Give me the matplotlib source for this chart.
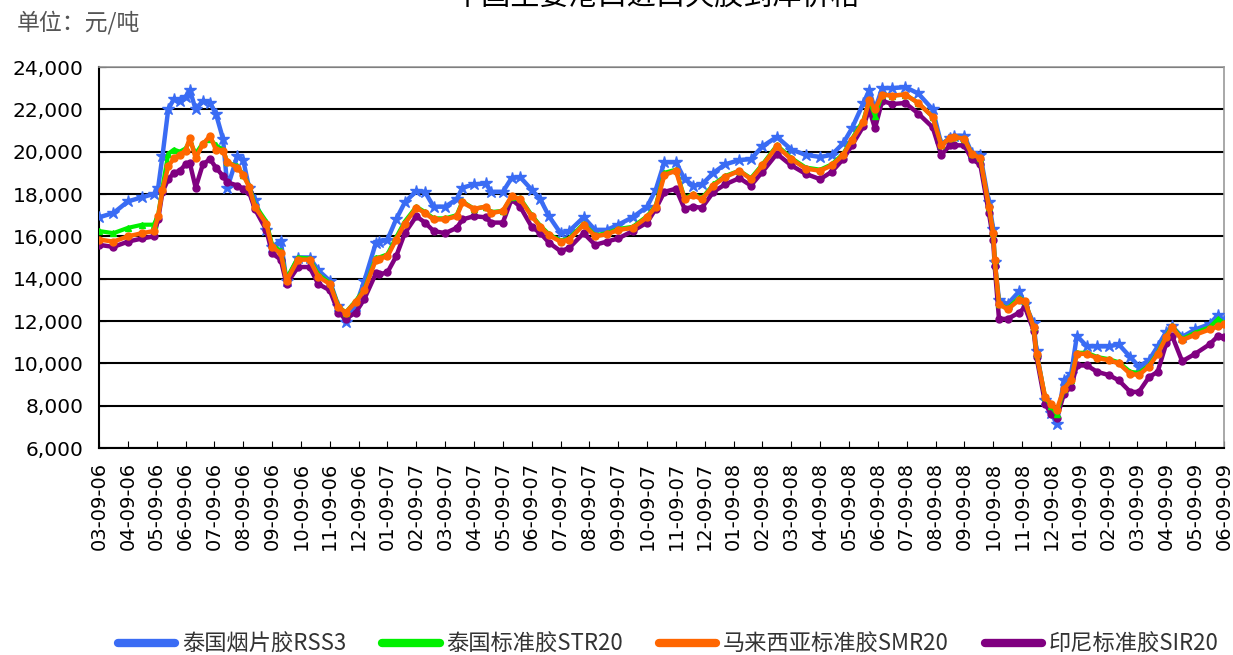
import matplotlib.pyplot as plt
from matplotlib.lines import Line2D
from matplotlib.ticker import FuncFormatter

plt.rcParams['font.family'] = ['Noto Sans CJK SC', 'DejaVu Sans']

# x tick labels (month-09-year)
tick_labels = (['%02d-09-06' % m for m in range(3, 13)] +
               ['%02d-09-07' % m for m in range(1, 13)] +
               ['%02d-09-08' % m for m in range(1, 13)] +
               ['%02d-09-09' % m for m in range(1, 7)])

# positions in months from the first tick label
pos = [0.0, 0.5, 1.0, 1.5, 1.9, 2.05, 2.2, 2.4, 2.6, 2.8, 3.0, 3.15, 3.35, 3.6, 3.85,
       4.05, 4.3, 4.45, 4.8, 5.0, 5.2, 5.4, 5.8, 6.0, 6.3, 6.5, 6.9, 7.3, 7.6, 8.0,
       8.3, 8.55, 8.9, 9.2, 9.6, 9.7, 10.0, 10.3, 10.6, 11.0, 11.3, 11.6, 12.0, 12.4,
       12.6, 13.0, 13.4, 13.6, 14.0, 14.3, 14.6, 15.0, 15.3, 15.6, 16.0, 16.3, 16.8,
       17.2, 17.6, 18.0, 18.5, 19.0, 19.3, 19.6, 20.0, 20.3, 20.6, 20.9, 21.3, 21.7,
       22.2, 22.6, 23.0, 23.5, 24.0, 24.5, 25.0, 25.4, 25.8, 26.1, 26.5, 26.7, 26.9,
       27.15, 27.5, 27.95, 28.4, 28.9, 29.2, 29.5, 29.65, 30.0, 30.25, 30.55, 30.85,
       31.0, 31.05, 31.2, 31.5, 31.9, 32.1, 32.4, 32.5, 32.8, 33.0, 33.2, 33.45, 33.7,
       33.9, 34.25, 34.6, 35.0, 35.35, 35.75, 36.05, 36.4, 36.7, 37.0, 37.2, 37.55,
       38.0, 38.5, 38.8, 39.0]

rss3 = [16900, 17100, 17650, 17850, 18000, 18300, 19800, 22000, 22500, 22400, 22600,
        22900, 22000, 22400, 22300, 21800, 20600, 18300, 19800, 19600, 18300, 17700,
        16300, 15500, 15800, 13900, 15000, 15000, 14400, 13900, 12700, 11950, 12700,
        13900, 15700, 15750, 15850, 16800, 17600, 18150, 18100, 17400, 17400, 17750,
        18300, 18450, 18500, 18100, 18100, 18750, 18800, 18200, 17750, 16950, 16150,
        16250, 16900, 16300, 16300, 16550, 16900, 17400, 18200, 19500, 19500, 18700,
        18400, 18450, 19000, 19400, 19600, 19650, 20250, 20700, 20100, 19850, 19750,
        19850, 20400, 21100, 22300, 22900, 22000, 23000, 23000, 23050, 22750, 22000,
        20350, 20650, 20750, 20750, 19950, 19850, 17600, 16350, 14800, 13000, 12800,
        13400, 12800, 11900, 10600, 8250, 7650, 7150, 9200, 9500, 11300, 10800, 10800,
        10800, 10900, 10300, 9850, 10150, 10800, 11500, 11750, 11250, 11600, 11850,
        12300, 12000]

str20 = [16250, 16150, 16400, 16550, 16550, 17000, 18300, 19900, 20100, 20000, 20150,
         20500, 19900, 20400, 20600, 20300, 20100, 19500, 19300, 18900, 18400, 17500,
         16700, 15600, 15300, 14000, 15000, 14950, 14200, 13800, 12700, 12400, 12950,
         13500, 15000, 15000, 15150, 15950, 16700, 17400, 17150, 16850, 16850, 17000,
         17650, 17300, 17400, 17150, 17200, 17850, 17800, 17000, 16500, 16100, 15800,
         15900, 16600, 16050, 16150, 16350, 16450, 16950, 17450, 19000, 19150, 17800,
         18000, 17800, 18450, 18850, 19100, 18750, 19400, 20300, 19700, 19250, 19150,
         19400, 19900, 20600, 21500, 22400, 21700, 22700, 22650, 22700, 22300, 21650,
         20300, 20650, 20700, 20600, 19900, 19700, 17400, 16150, 14900, 12800, 12600,
         13100, 12950, 11700, 10450, 8400, 8000, 7600, 8800, 9200, 10500, 10500, 10300,
         10200, 10050, 9600, 9550, 9900, 10500, 11300, 11750, 11150, 11450, 11700,
         12100, 11900]

smr20 = [15850, 15750, 16000, 16150, 16250, 16950, 18200, 19300, 19700, 19850, 20050,
         20650, 19700, 20350, 20750, 20100, 20050, 19500, 19250, 18900, 18350, 17400,
         16600, 15500, 15200, 13900, 14900, 14900, 14100, 13750, 12650, 12400, 12900,
         13450, 14900, 14950, 15050, 15850, 16600, 17350, 17100, 16800, 16800, 16950,
         17600, 17300, 17400, 17100, 17200, 17900, 17750, 16950, 16450, 16050, 15750,
         15850, 16550, 16000, 16100, 16300, 16400, 16900, 17400, 18900, 19100, 17750,
         17950, 17750, 18400, 18800, 19100, 18700, 19350, 20250, 19650, 19200, 19100,
         19350, 19850, 20550, 21400, 22450, 22000, 22700, 22650, 22700, 22300, 21650,
         20300, 20650, 20700, 20600, 19900, 19700, 17400, 16150, 14900, 12800, 12550,
         13000, 12950, 11700, 10450, 8400, 8100, 7800, 8800, 9200, 10450, 10450, 10250,
         10150, 10000, 9500, 9450, 9850, 10450, 11250, 11700, 11100, 11350, 11600,
         11750, 11850]

sir20 = [15600, 15500, 15750, 15900, 16000, 16800, 18100, 18700, 19000, 19100, 19400,
         19450, 18300, 19400, 19650, 19250, 18850, 18550, 18400, 18250, 18100, 17300,
         16300, 15200, 14900, 13750, 14550, 14550, 13750, 13450, 12400, 12100, 12400,
         13050, 14250, 14200, 14300, 15050, 16150, 16950, 16650, 16250, 16150, 16400,
         16800, 16950, 16900, 16650, 16650, 17750, 17400, 16450, 16150, 15700, 15300,
         15450, 16150, 15600, 15750, 15900, 16250, 16650, 17300, 18100, 18250, 17300,
         17400, 17350, 18100, 18450, 18750, 18400, 19050, 19900, 19350, 18950, 18700,
         19050, 19650, 20300, 21200, 22000, 21100, 22400, 22250, 22300, 21800, 21150,
         19850, 20300, 20300, 20300, 19650, 19400, 17100, 15850, 14600, 12100, 12100,
         12400, 12650, 11550, 10300, 8100, 7600, 7400, 8550, 8900, 9900, 9900, 9600,
         9450, 9200, 8650, 8650, 9350, 9600, 10950, 11300, 10100, 10450, 10900,
         11300, 11250]

series_names = ['泰国烟片胶RSS3', '泰国标准胶STR20', '马来西亚标准胶SMR20', '印尼标准胶SIR20']
colors = ['#3a6cf4', '#00f000', '#ff6600', '#800080']

fig = plt.figure(figsize=(12.33, 6.55), dpi=100)
ax = fig.add_axes([0.0803, 0.316, 0.9124, 0.5817])

ax.plot(pos, rss3, color=colors[0], lw=3.2, marker='*', ms=9, mec=colors[0], zorder=3)
ax.plot(pos, sir20, color=colors[3], lw=3.2, marker='o', ms=5, zorder=4)
ax.plot(pos, str20, color=colors[1], lw=3, marker='^', ms=4, zorder=5)
ax.plot(pos, smr20, color=colors[2], lw=3.2, marker='o', ms=5, zorder=6)

ax.set_xlim(0, 39)
ax.set_ylim(6000, 24000)
ax.set_yticks(range(6000, 24001, 2000))
ax.yaxis.set_major_formatter(FuncFormatter(lambda v, p: '{:,.0f}'.format(v)))
ax.set_xticks(range(len(tick_labels)))
ax.set_xticklabels(tick_labels, rotation=90, family='DejaVu Sans', fontsize=14)
for lab in ax.get_yticklabels():
    lab.set_family('DejaVu Sans')
    lab.set_fontsize(14.5)
ax.tick_params(axis='x', direction='in', length=5, pad=10, color='black')
ax.tick_params(axis='y', direction='in', length=5, pad=11, color='black')
ax.yaxis.grid(True, color='black', lw=1.5)
ax.set_axisbelow(True)
for side in ['top', 'right']:
    ax.spines[side].set_color('#999999')
    ax.spines[side].set_linewidth(1.2)
for side in ['left', 'bottom']:
    ax.spines[side].set_color('black')
    ax.spines[side].set_linewidth(1.5)

fig.text(0.014, 0.965, '单位：元/吨', fontsize=16.5, color='#555555', va='center', ha='left')
fig.text(0.532, 1.004, '中国主要港口进口天胶到岸价格', fontsize=21, color='black',
         va='center', ha='center')

handles = [Line2D([], [], color=c, lw=6, solid_capstyle='round') for c in colors]
fig.legend(handles, series_names, loc='center', bbox_to_anchor=(0.542, 0.016), ncol=4,
           frameon=False, fontsize=16, handlelength=2.6, handletextpad=0.3,
           columnspacing=1.6, labelcolor='#333333')

fig.savefig('out.png', dpi=100)
